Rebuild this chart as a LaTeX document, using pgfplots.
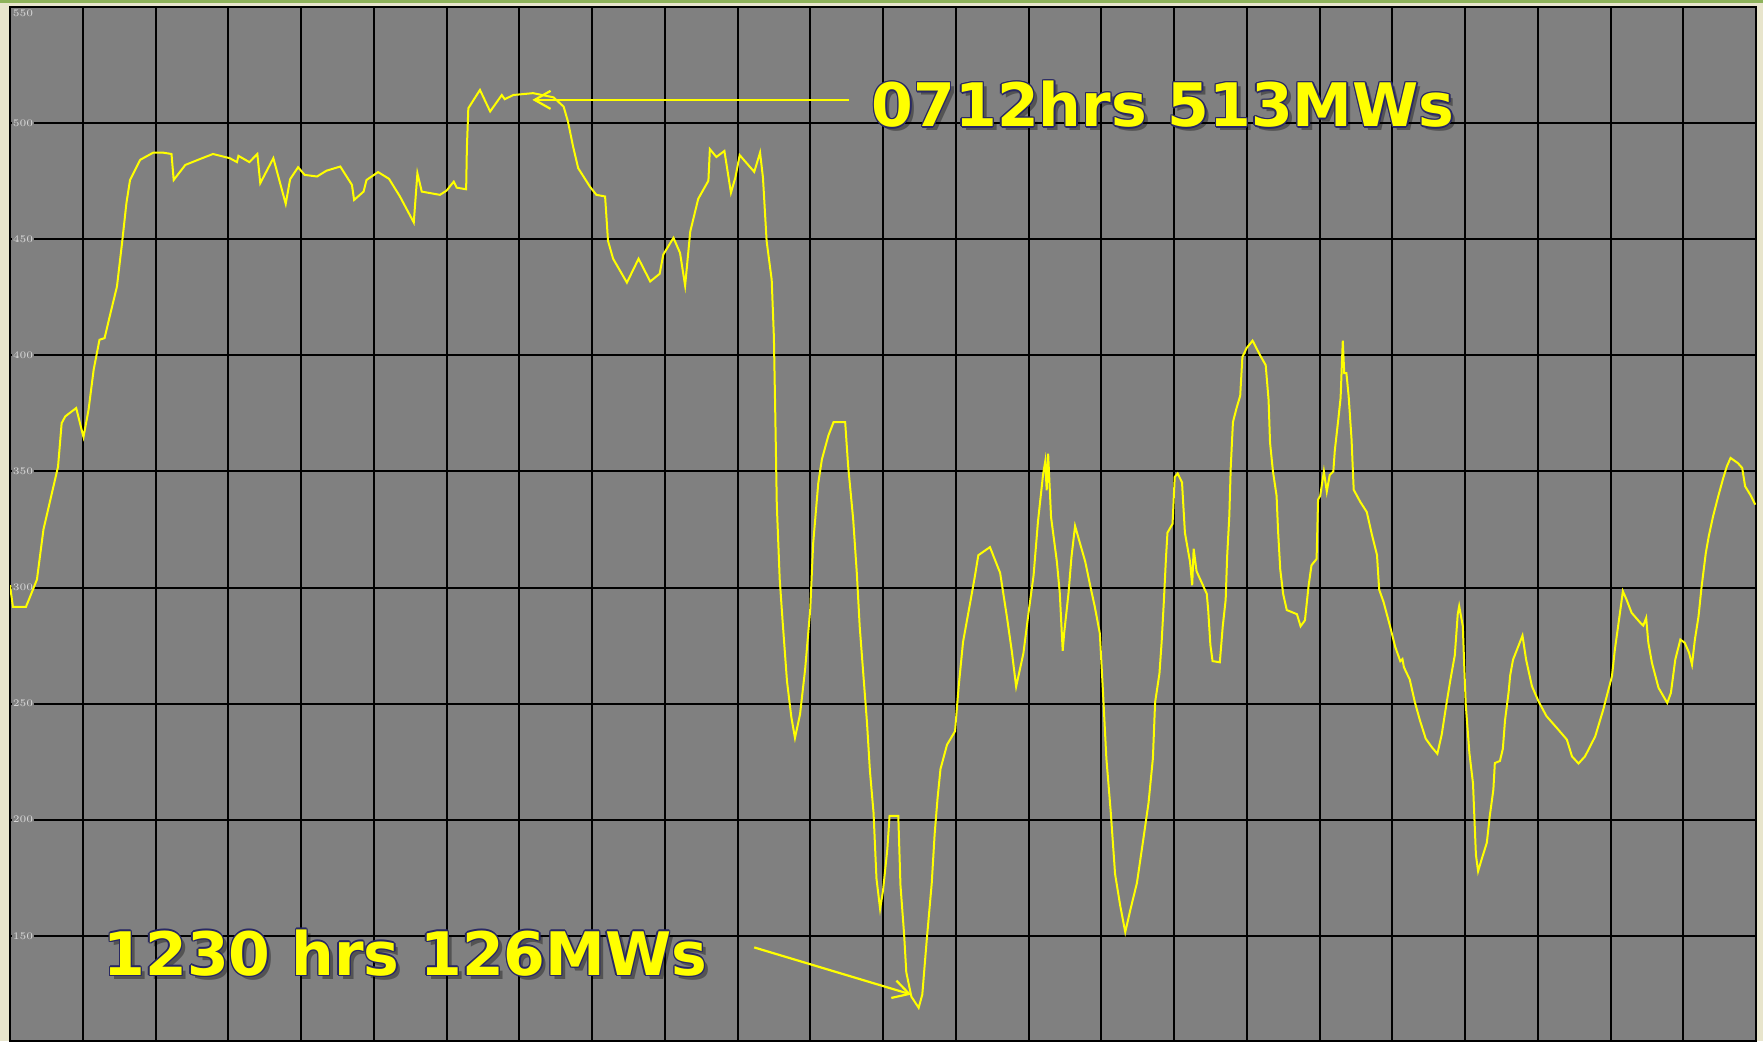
\documentclass[border=0pt]{standalone}
\usepackage{pgfplots}
\pgfplotsset{compat=1.18}
\usepackage{fontspec}
\setmainfont{DejaVu Sans}
\usetikzlibrary{arrows.meta}
\definecolor{bggray}{RGB}{128,128,128}
\definecolor{beige}{RGB}{232,229,204}
\definecolor{topgreen}{RGB}{141,178,90}
\definecolor{labgray}{RGB}{220,220,220}
\definecolor{outl}{RGB}{40,40,100}
\definecolor{lineyellow}{RGB}{255,255,0}
\pgfplotstableread{
h MW
0.00 301
0.04 291.7
0.22 291.7
0.37 303.4
0.46 325
0.66 352
0.71 370.8
0.76 373.7
0.91 377.3
1.01 364.8
1.08 376.6
1.15 393.8
1.23 406.7
1.30 407.4
1.37 416.7
1.47 429.6
1.54 448.3
1.60 465.5
1.65 475.5
1.79 484.2
1.97 487.3
2.10 487.3
2.22 486.7
2.25 475.5
2.41 482
2.61 484.5
2.79 486.7
3.02 484.9
3.12 483.2
3.14 485.9
3.29 483.2
3.40 486.7
3.44 474.1
3.62 484.9
3.79 465.2
3.85 475.8
3.96 481
4.05 477.7
4.22 477
4.35 479.5
4.54 481.3
4.70 473.4
4.73 466.9
4.86 470.5
4.90 475.5
5.06 478.9
5.21 476
5.36 468.4
5.55 457.2
5.60 478.4
5.66 470.5
5.91 469.1
6.00 470.9
6.10 474.8
6.14 472.2
6.27 471.5
6.28 489.2
6.30 506.4
6.46 514.3
6.60 505
6.76 512.1
6.80 510.3
6.92 512.1
7.19 512.9
7.47 511.1
7.61 507.1
7.67 500.6
7.74 489.9
7.81 480.6
7.97 472.7
8.06 469.1
8.18 468.4
8.22 449.3
8.29 441.6
8.48 431.3
8.64 441.6
8.80 431.8
8.93 435.1
8.98 443.4
9.12 450.6
9.21 444.1
9.28 430
9.35 453.2
9.46 467.4
9.60 475.2
9.62 488.8
9.71 485.4
9.82 488
9.91 470
9.97 476.5
10.03 486.2
10.23 479
10.31 487.3
10.35 476.5
10.40 449.3
10.47 432.5
10.50 408
10.52 373.3
10.54 335.8
10.58 303.6
10.62 285.5
10.68 259.7
10.74 244.2
10.79 235.2
10.86 245.5
10.93 264.9
11.00 290.7
11.04 319
11.11 344.9
11.16 355.2
11.25 365.5
11.32 371.2
11.48 371.2
11.52 352.6
11.59 329.4
11.64 306.2
11.68 283.1
11.73 262.4
11.78 241.8
11.82 221.1
11.87 203
11.91 174.7
11.96 161.6
12.00 169.4
12.06 187.5
12.09 201.7
12.21 201.7
12.24 171.8
12.29 150.7
12.32 134.3
12.39 123.8
12.49 119
12.54 124.7
12.60 147.8
12.67 172.7
12.71 193.9
12.75 209.3
12.79 221.8
12.88 232.3
12.99 238.1
13.04 257.3
13.10 276.5
13.20 293.8
13.26 304.3
13.31 313.9
13.47 317.4
13.61 306.3
13.70 288
13.77 272.7
13.83 257.3
13.93 271.7
14.00 289
14.07 305.3
14.13 328.4
14.20 348.6
14.23 354.3
14.25 341.9
14.27 357.6
14.31 330.3
14.39 311.1
14.43 297.6
14.47 272.7
14.49 280.3
14.55 297.6
14.59 313
14.64 326.5
14.71 318.8
14.78 311.1
14.85 300.5
14.91 291.9
14.98 280.3
15.02 257.3
15.07 226.5
15.13 203.5
15.19 176.6
15.26 163.1
15.33 151.6
15.40 161.2
15.49 172.7
15.58 192
15.65 207.3
15.71 226.5
15.74 250.5
15.80 263
15.83 276.5
15.86 293.8
15.89 313
15.91 323.6
15.98 327.4
16.01 347.6
16.05 349.1
16.11 345.3
16.15 323.6
16.22 311.1
16.25 301
16.27 316.7
16.31 307
16.45 297.3
16.47 290.3
16.50 275.3
16.53 268.3
16.63 267.8
16.67 283.3
16.71 294.7
16.73 313.1
16.76 330.7
16.78 351.8
16.81 371.2
16.86 377.3
16.91 382.6
16.94 399.3
17.00 403.2
17.08 406.3
17.18 400.2
17.26 395.8
17.30 380.8
17.32 362.4
17.36 350
17.41 339.5
17.43 324.6
17.46 307.9
17.50 297.3
17.55 290.3
17.69 288.5
17.74 283.3
17.80 285.9
17.85 300.8
17.89 309.6
17.96 312.3
17.98 337.8
18.01 339.5
18.06 350
18.10 341.3
18.14 348.4
18.19 350
18.21 358.9
18.26 372.9
18.29 381.7
18.32 406.3
18.34 392.3
18.37 392.3
18.40 382.6
18.44 364.1
18.47 342.1
18.56 336.9
18.65 332.5
18.72 322.8
18.79 314
18.82 299.1
18.88 293.8
18.97 283.3
19.04 274.5
19.11 268.3
19.14 269.2
19.16 265.7
19.24 260.4
19.31 250.7
19.38 242.8
19.46 234.9
19.54 231.4
19.62 228.4
19.68 236.7
19.74 248.9
19.80 260.4
19.86 270.9
19.90 288.5
19.92 292
19.97 283.3
19.99 265.7
20.01 249.8
20.06 228.8
20.11 215.6
20.15 184.8
20.18 177.8
20.23 183.1
20.30 190.1
20.34 201.5
20.39 213
20.41 224.4
20.48 225.3
20.52 230.5
20.55 242.8
20.60 255.1
20.62 262
20.66 268.9
20.79 279.3
20.84 268.9
20.92 257.5
21.01 251
21.12 244.6
21.26 239.6
21.40 234.5
21.47 227.3
21.56 224.2
21.65 227.3
21.79 235.9
21.90 247.4
22.02 261.8
22.06 273.3
22.13 289.1
22.17 298.4
22.22 294.8
22.29 289.1
22.41 284.8
22.45 283.6
22.49 286.9
22.52 276.2
22.57 267.5
22.66 256.8
22.78 250.3
22.83 254.6
22.89 268.9
22.96 277.6
23.02 276.2
23.08 271.9
23.12 266.8
23.16 277.6
23.21 287.6
23.25 299.8
23.31 314.9
23.35 322
23.41 330.7
23.48 339.2
23.55 347.2
23.60 352.2
23.65 355.8
23.75 353.6
23.81 351.5
23.85 343.6
23.92 340
23.99 335.7
}\loadtable
\newcommand{\annot}{\fontsize{30}{36}\selectfont\bfseries}
\begin{document}
\begin{tikzpicture}
\path[use as bounding box] (0,0) rectangle (881.5pt,520.5pt);
\fill[beige] (0,0) rectangle (881.5pt,520.5pt);
\fill[topgreen] (0,519pt) rectangle (881.5pt,520.5pt);
\begin{axis}[
  at={(5pt,0pt)}, anchor=south west,
  scale only axis, width=873pt, height=517pt,
  xmin=0, xmax=24, ymin=104.7, ymax=550,
  xtick={0,1,...,24}, xticklabels={},
  ytick={150,200,...,500},
  extra y ticks={550},
  extra y tick style={yticklabel style={anchor=north west, yshift=-0.8pt}},
  grid=major,
  major grid style={black, line width=1pt},
  axis line style={black, line width=1.2pt},
  major tick length=0pt,
  axis background/.style={fill=bggray},
  yticklabel style={anchor=west, font=\tiny, text=labgray, fill=bggray, inner sep=0.6pt, xshift=0.6pt},
  clip=true,
]
\addplot[lineyellow, line width=1pt] table[x=h, y=MW] {\loadtable};
\coordinate (A1s) at (axis cs:11.53,510);
\coordinate (A1e) at (axis cs:7.18,510);
\coordinate (T1) at (axis cs:11.84,508);
\coordinate (A2s) at (axis cs:10.23,145);
\coordinate (A2e) at (axis cs:12.39,124.7);
\coordinate (T2) at (axis cs:1.28,142.7);
\end{axis}
\draw[lineyellow, line width=1.1pt, -{Straight Barb[length=8pt,width=9pt]}] (A1s) -- (A1e);
\draw[lineyellow, line width=1.1pt, -{Straight Barb[length=8pt,width=9pt]}] (A2s) -- (A2e);
\foreach \p/\t in {T1/0712hrs 513MWs, T2/1230 hrs 126MWs}{
  \node[anchor=west, inner sep=0, text=black, opacity=0.35, xshift=2pt, yshift=-2pt] at (\p) {\annot \t};
  \foreach \dx/\dy in {0.7/0,-0.7/0,0/0.7,0/-0.7,0.5/0.5,-0.5/0.5,0.5/-0.5,-0.5/-0.5}{
    \node[anchor=west, inner sep=0, text=outl, xshift=\dx pt, yshift=\dy pt] at (\p) {\annot \t};
  }
  \node[anchor=west, inner sep=0, text=lineyellow] at (\p) {\annot \t};
}
\end{tikzpicture}
\end{document}
